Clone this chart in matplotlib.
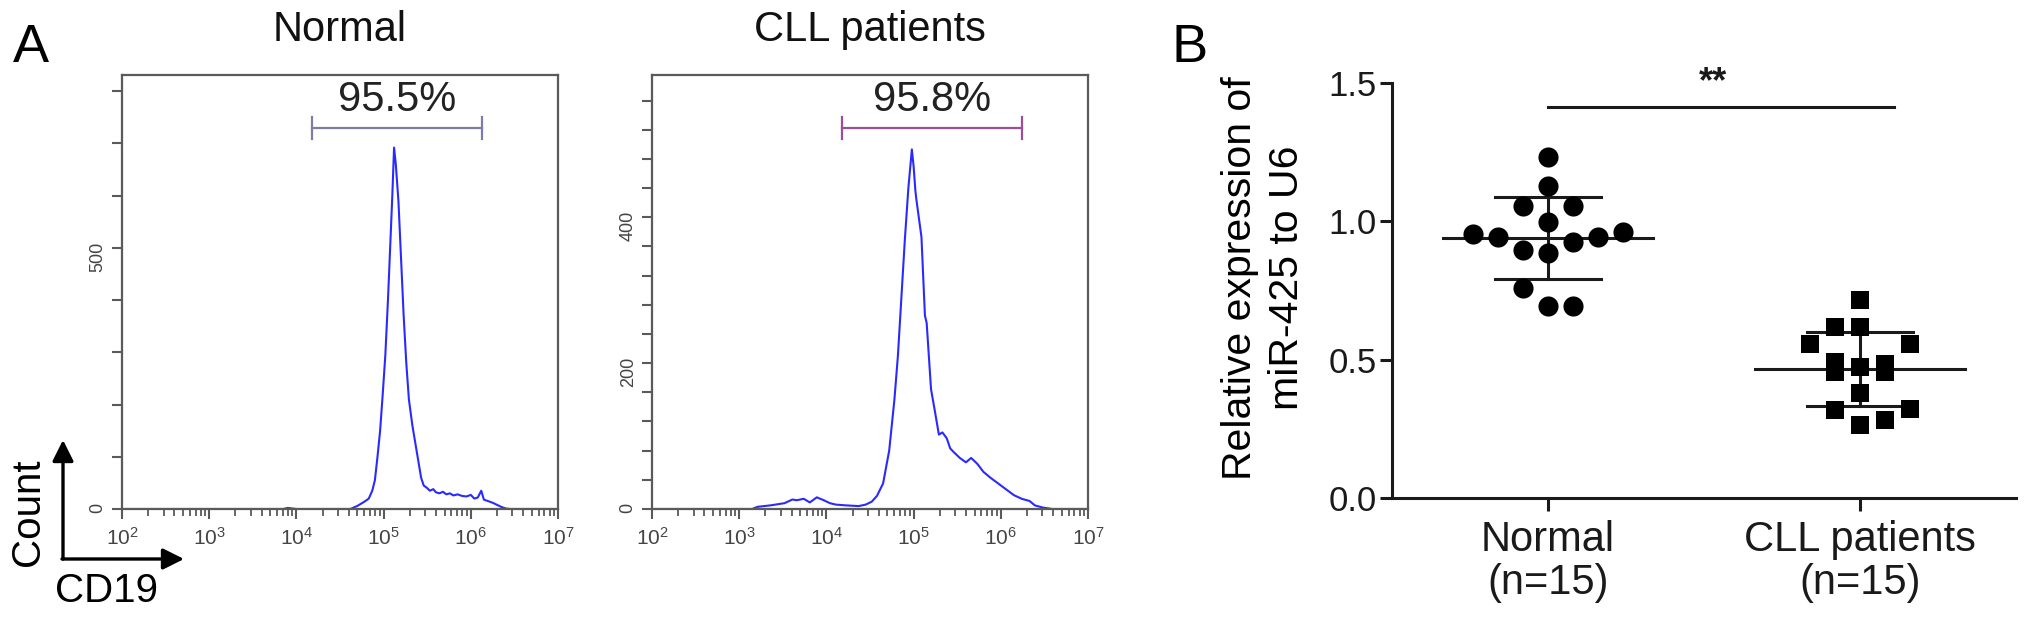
import numpy as np
import matplotlib
matplotlib.use('Agg')
import matplotlib.pyplot as plt
from matplotlib.ticker import LogLocator, NullFormatter, MultipleLocator, FuncFormatter

plt.rcParams['font.family'] = ['Liberation Sans', 'DejaVu Sans']
plt.rcParams['mathtext.fontset'] = 'custom'
plt.rcParams['mathtext.rm'] = 'Liberation Sans'

# Flow cytometry histograms: log10(CD19 intensity) vs count
normal_logx = [2.0, 3.85, 3.90, 3.95, 4.0, 4.62, 4.70, 4.78, 4.83, 4.87, 4.90, 4.93, 4.96,
               4.99, 5.02, 5.05, 5.07, 5.10, 5.12, 5.14, 5.17, 5.20, 5.23, 5.26, 5.29,
               5.33, 5.37, 5.40, 5.43, 5.46, 5.50, 5.53, 5.57, 5.60, 5.64, 5.68, 5.72,
               5.76, 5.80, 5.85, 5.90, 5.95, 6.00, 6.04, 6.08, 6.12, 6.15, 6.20, 6.25,
               6.30, 6.35, 6.40, 6.45, 7.0]
normal_count = [0, 0, 2, 1, 0, 0, 6, 14, 20, 35, 55, 100, 150,
                220, 295, 400, 480, 600, 692, 660, 590, 480, 370, 280, 210,
                160, 120, 90, 60, 45, 40, 35, 38, 32, 30, 33, 28,
                30, 26, 28, 25, 24, 27, 20, 22, 35, 18, 15, 12,
                8, 4, 1, 0, 0]

cll_logx = [2.0, 3.15, 3.21, 3.36, 3.52, 3.61, 3.66, 3.74, 3.81, 3.89, 3.97, 4.04, 4.11,
            4.22, 4.37, 4.45, 4.52, 4.58, 4.65, 4.72, 4.78, 4.82, 4.86, 4.90, 4.94,
            4.98, 5.00, 5.02, 5.03, 5.09, 5.13, 5.15, 5.20, 5.24, 5.29, 5.33, 5.38,
            5.42, 5.46, 5.53, 5.60, 5.66, 5.73, 5.80, 5.88, 5.97, 6.06, 6.15, 6.24,
            6.33, 6.39, 6.48, 6.59, 7.0]
cll_count = [0, 0, 3, 5, 8, 13, 12, 14, 9, 16, 12, 8, 6,
             5, 4, 6, 10, 18, 35, 80, 150, 210, 290, 370, 440,
             493, 470, 437, 426, 373, 265, 255, 164, 137, 102, 105, 97,
             83, 78, 70, 64, 70, 62, 51, 43, 35, 27, 19, 14,
             11, 5, 2, 0, 0]

normal_gate = [1.5e4, 1.35e6]
cll_gate = [1.5e4, 1.75e6]
normal_pct = '95.5%'
cll_pct = '95.8%'

# RT-qPCR scatter: relative miR-425 expression and horizontal spread of each dot
group_labels = ['Normal\n(n=15)', 'CLL patients\n(n=15)']
normal_expr = [1.233, 1.127, 1.054, 1.054, 0.996, 0.954, 0.943, 0.943, 0.960,
               0.895, 0.886, 0.925, 0.759, 0.695, 0.695]
normal_spread = [0, 0, -0.08, 0.08, 0, -0.24, -0.16, 0.16, 0.24,
                 -0.08, 0, 0.08, -0.08, 0, 0.08]
cll_expr = [0.716, 0.617, 0.617, 0.556, 0.556, 0.490, 0.455, 0.485, 0.455,
            0.472, 0.381, 0.318, 0.320, 0.264, 0.282]
cll_spread = [0, -0.08, 0, -0.16, 0.16, -0.08, -0.08, 0.08, 0.08,
              0, 0, -0.08, 0.16, 0, 0.08]

W, H = 2031, 618
fig = plt.figure(figsize=(W / 100, H / 100), dpi=100)

hist_blue = '#2a2aff'
frame_gray = '#5a5a5a'
label_gray = '#444444'


def flow_panel(rect, logx, count, ymax, ystep, ylabels, gate, gate_color, pct, title):
    ax = fig.add_axes(rect)
    ax.plot(10 ** np.array(logx), count, color=hist_blue, lw=1.5)
    ax.set_xscale('log')
    ax.set_xlim(1e2, 1e7)
    ax.set_ylim(0, ymax)
    ax.set_xticks([10.0 ** k for k in range(2, 8)])
    ax.set_xticklabels([f'$\\mathregular{{10^{{{k}}}}}$' for k in range(2, 8)])
    ax.xaxis.set_minor_locator(LogLocator(base=10, subs=np.arange(2, 10)))
    ax.xaxis.set_minor_formatter(NullFormatter())
    ax.yaxis.set_major_locator(MultipleLocator(ystep))
    ax.yaxis.set_major_formatter(FuncFormatter(
        lambda v, p: f'{int(round(v))}' if int(round(v)) in ylabels else ''))
    ax.tick_params(axis='x', which='major', length=7, width=1.5, color=frame_gray,
                   labelsize=15, labelcolor=label_gray, pad=6)
    ax.tick_params(axis='x', which='minor', length=5, width=1.3, color=frame_gray)
    ax.tick_params(axis='y', length=7, width=1.5, color=frame_gray, labelsize=13,
                   labelcolor=label_gray, labelrotation=90, pad=4)
    for s in ax.spines.values():
        s.set_color(frame_gray)
        s.set_linewidth(1.6)
    tr = ax.get_xaxis_transform()
    gy, cap = 0.878, 0.025
    ax.plot(gate, [gy, gy], color=gate_color, lw=1.6, transform=tr, clip_on=False)
    for g in gate:
        ax.plot([g, g], [gy - cap, gy + cap], color=gate_color, lw=1.6, transform=tr)
    gc = 10 ** np.mean(np.log10(gate))
    ax.text(gc, 0.942, pct, transform=tr, ha='center', va='center', fontsize=30,
            color='#222222')
    ax.text(0.5, 1.104, title, transform=ax.transAxes, ha='center', va='center',
            fontsize=30, color='#111111')
    return ax


flow_panel([122 / W, 1 - 509 / H, 436 / W, 434 / H], normal_logx, normal_count, 831, 100,
           (0, 500), normal_gate, '#7c7ca6', normal_pct, 'Normal')
flow_panel([652 / W, 1 - 509 / H, 436 / W, 434 / H], cll_logx, cll_count, 595, 40,
           (0, 200, 400), cll_gate, '#9c4f98', cll_pct, 'CLL patients')

# panel letters
fig.text(13 / W, 1 - 23 / H, 'A', ha='left', va='top', fontsize=39)
fig.text(1172 / W, 1 - 23 / H, 'B', ha='left', va='top', fontsize=39)

# Count / CD19 axis legend
fig.text(28 / W, 1 - 512 / H, 'Count', rotation=90, ha='center', va='center', fontsize=29)
fig.text(55 / W, 1 - 591 / H, 'CD19', ha='left', va='center', fontsize=29)
arrow_kw = dict(arrowstyle='-|>', color='black', lw=2.4, mutation_scale=32,
                shrinkA=0, shrinkB=0)
fig.add_artist(matplotlib.patches.FancyArrowPatch((63 / W, 59 / H), (63 / W, 178 / H),
                                                  transform=fig.transFigure, **arrow_kw))
fig.add_artist(matplotlib.patches.FancyArrowPatch((62 / W, 59 / H), (184 / W, 59 / H),
                                                  transform=fig.transFigure, **arrow_kw))

# panel B scatter
ax3 = fig.add_axes([1392 / W, 1 - 498 / H, 624 / W, 415 / H])
groups = [(normal_expr, normal_spread, 'o', 210), (cll_expr, cll_spread, 's', 175)]
for i, (vals, spread, mk, size) in enumerate(groups, start=1):
    vals = np.array(vals)
    m, sd = vals.mean(), vals.std(ddof=1)
    ax3.plot([i - 0.335, i + 0.335], [m, m], color='#1a1a1a', lw=2.2, zorder=2)
    for v in (m - sd, m + sd):
        ax3.plot([i - 0.17, i + 0.17], [v, v], color='#1a1a1a', lw=2.2, zorder=2)
    ax3.plot([i, i], [m - sd, m + sd], color='#1a1a1a', lw=2.2, zorder=2)
    ax3.scatter(i + np.array(spread), vals, marker=mk, s=size, color='black',
                linewidths=0, zorder=3)

ax3.set_xlim(0.5, 2.5)
ax3.set_ylim(0, 1.5)
ax3.set_xticks([1, 2])
ax3.set_xticklabels(group_labels, fontsize=30, linespacing=1.1)
ax3.set_yticks([0, 0.5, 1.0, 1.5])
ax3.set_yticklabels(['0.0', '0.5', '1.0', '1.5'], fontsize=25)
ax3.tick_params(axis='both', length=9, width=2.2, color='#1a1a1a', labelcolor='#1a1a1a')
ax3.tick_params(axis='x', pad=7)
ax3.tick_params(axis='y', pad=2)
for s in ('top', 'right'):
    ax3.spines[s].set_visible(False)
for s in ('left', 'bottom'):
    ax3.spines[s].set_linewidth(2.2)
    ax3.spines[s].set_color('#1a1a1a')
ax3.text(-0.206, 0.53, 'Relative expression of\nmiR-425 to U6', transform=ax3.transAxes,
         rotation=90, ha='center', va='center', fontsize=29.5, linespacing=1.3,
         multialignment='center')

# significance bar
ax3.plot([1.0, 2.11], [1.413, 1.413], color='#1a1a1a', lw=2.2, clip_on=False)
ax3.text(1.53, 1.50, '**', ha='center', va='center', fontsize=26, fontweight='bold',
         color='#1a1a1a')

fig.savefig('out.png', dpi=100)
